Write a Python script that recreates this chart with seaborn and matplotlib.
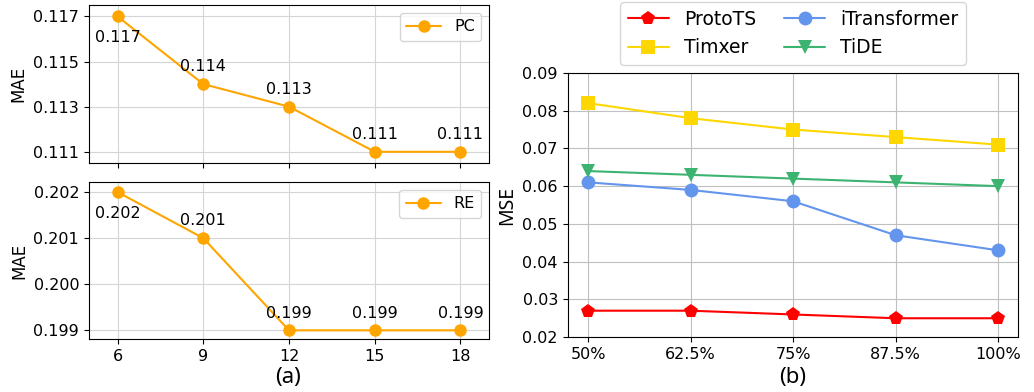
import matplotlib
matplotlib.use("Agg")
import matplotlib.pyplot as plt
import seaborn as sns
import pandas as pd

# data for (a)
pc_x = [6, 9, 12, 15, 18]
pc_mae = [0.117, 0.114, 0.113, 0.111, 0.111]
re_mae = [0.202, 0.201, 0.199, 0.199, 0.199]

# data for (b)
ratios = ["50%", "62.5%", "75%", "87.5%", "100%"]
protots = [0.027, 0.027, 0.026, 0.025, 0.025]
timxer = [0.082, 0.078, 0.075, 0.073, 0.071]
itrans = [0.061, 0.059, 0.056, 0.047, 0.043]
tide = [0.064, 0.063, 0.062, 0.061, 0.060]

sns.set_style("ticks", {"axes.edgecolor": "black", "text.color": "black",
                        "axes.labelcolor": "black", "xtick.color": "black",
                        "ytick.color": "black"})
plt.rcParams["font.family"] = ["DejaVu Sans"]

fig = plt.figure(figsize=(10.34, 3.92), dpi=100)
ax1 = fig.add_axes([0.086, 0.584, 0.387, 0.403])
ax2 = fig.add_axes([0.086, 0.135, 0.387, 0.401])
ax3 = fig.add_axes([0.549, 0.140, 0.436, 0.674])

orange = "#FFA500"

def left_panel(ax, y, label, ylim, yticks, fmt):
    df = pd.DataFrame({"x": pc_x, "y": y})
    sns.lineplot(data=df, x="x", y="y", ax=ax, color=orange, marker="o",
                 markersize=9, markeredgewidth=0, linewidth=1.5, label=label)
    for i, (xx, yy) in enumerate(zip(pc_x, y)):
        if i == 0:
            ax.annotate(fmt.format(yy), (xx, yy), xytext=(0, -10),
                        textcoords="offset points", ha="center", va="top",
                        fontsize=11.5)
        else:
            ax.annotate(fmt.format(yy), (xx, yy), xytext=(0, 7),
                        textcoords="offset points", ha="center", va="bottom",
                        fontsize=11.5)
    ax.set_xlim(5, 19)
    ax.set_ylim(*ylim)
    ax.set_yticks(yticks)
    ax.set_yticklabels([fmt.format(t) for t in yticks])
    ax.set_xticks(pc_x)
    ax.grid(True, color="#d5d5d5", linewidth=0.8)
    ax.set_ylabel("MAE", fontsize=12)
    ax.set_xlabel("")
    ax.tick_params(labelsize=11.5)
    ax.legend(loc="upper right", fontsize=11.5, handlelength=2.2)

left_panel(ax1, pc_mae, "PC", (0.1105, 0.1175), [0.111, 0.113, 0.115, 0.117], "{:.3f}")
ax1.set_xticklabels([])
left_panel(ax2, re_mae, "RE", (0.19881, 0.20222), [0.199, 0.200, 0.201, 0.202], "{:.3f}")

# panel (b)
xs = list(range(len(ratios)))
series = [
    ("ProtoTS", protots, "red", "p"),
    ("Timxer", timxer, "#FFD700", "s"),
    ("iTransformer", itrans, "#6495ED", "o"),
    ("TiDE", tide, "#3CB371", "v"),
]
for name, vals, col, mk in series:
    df = pd.DataFrame({"x": xs, "y": vals})
    sns.lineplot(data=df, x="x", y="y", ax=ax3, color=col, marker=mk,
                 markersize=10, markeredgewidth=0, linewidth=1.5, label=name)
ax3.set_xlim(-0.2, 4.2)
ax3.set_ylim(0.02, 0.09)
ax3.set_yticks([0.02, 0.03, 0.04, 0.05, 0.06, 0.07, 0.08, 0.09])
ax3.set_yticklabels(["0.02", "0.03", "0.04", "0.05", "0.06", "0.07", "0.08", "0.09"])
ax3.set_xticks(xs)
ax3.set_xticklabels(ratios)
ax3.grid(True, color="#c0c0c0", linewidth=0.8)
ax3.set_xlabel("")
ax3.set_ylabel("MSE", fontsize=14, family=["Noto Sans"])
ax3.tick_params(labelsize=11.5)
ax3.legend(loc="lower center", bbox_to_anchor=(0.5, 0.995), ncol=2,
           fontsize=13.5, handlelength=2.2, columnspacing=1.5)

fig.text(0.279, 0.01, "(a)", ha="center", va="bottom", fontsize=16, family=["Noto Sans"])
fig.text(0.767, 0.01, "(b)", ha="center", va="bottom", fontsize=16, family=["Noto Sans"])

fig.savefig("out.png", dpi=100)
